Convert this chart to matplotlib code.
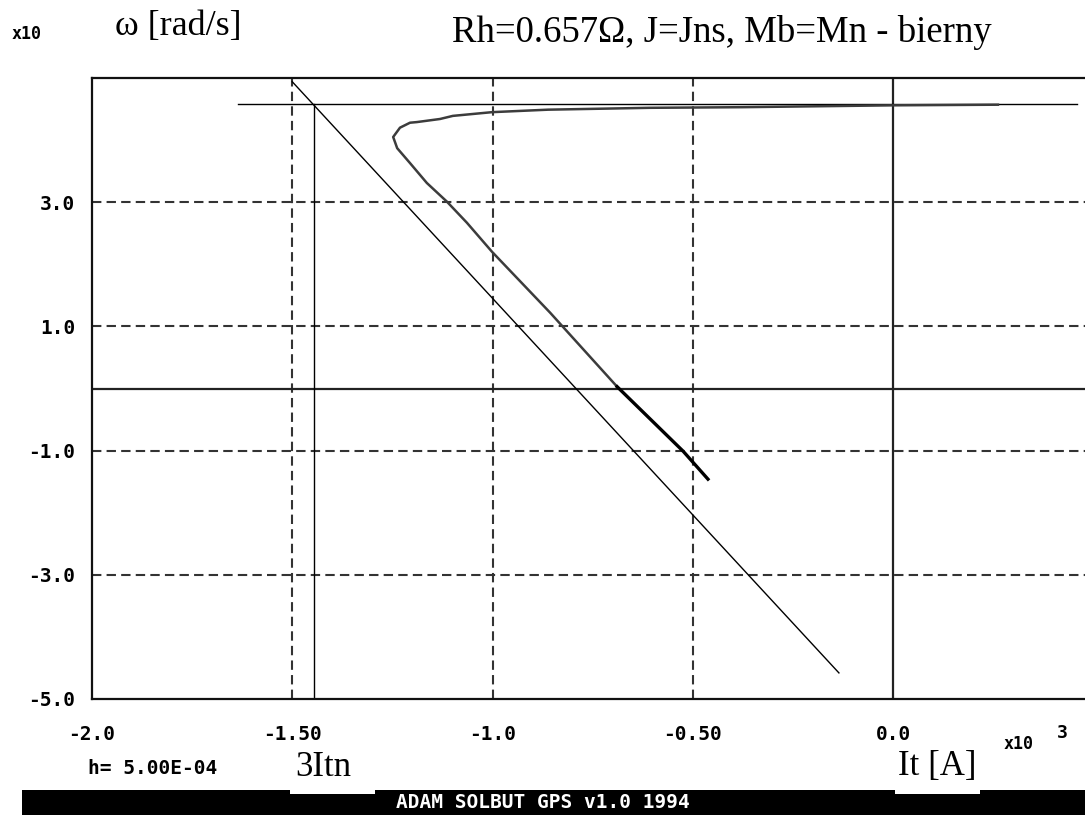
import matplotlib
matplotlib.use("Agg")
import matplotlib.pyplot as plt
from matplotlib.patches import Rectangle

# braking trajectory omega(It) (It in x10^3 A, omega in x10 rad/s)
curve_i = [0.262, 0.0, -0.377, -0.607, -0.861, -1.001, -1.099, -1.131, -1.189, -1.206,
           -1.231, -1.248, -1.238, -1.206, -1.164, -1.114, -1.064, -1.001, -0.856, -0.689,
           -0.524, -0.462]
curve_w = [4.57, 4.56, 4.53, 4.52, 4.49, 4.45, 4.39, 4.34, 4.29, 4.28,
           4.20, 4.05, 3.87, 3.63, 3.31, 3.01, 2.67, 2.20, 1.22, 0.03,
           -1.01, -1.46]
split = 19  # darker part of the trace starts here

# helper lines
hline_i = [-1.635, 0.46]
hline_w = [4.58, 4.58]
vline_i = [-1.446, -1.446]
vline_w = [-5.0, 4.58]
diag_i = [-1.50, -0.135]
diag_w = [4.94, -4.58]

xticks = [-2.0, -1.5, -1.0, -0.5, 0.0]
xlabels = ["-2.0", "-1.50", "-1.0", "-0.50", "0.0"]
yticks = [-5.0, -3.0, -1.0, 1.0, 3.0]
ylabels = ["-5.0", "-3.0", "-1.0", "1.0", "3.0"]

mono = "DejaVu Sans Mono"
serif = "Liberation Serif"

fig = plt.figure(figsize=(10.85, 8.15), dpi=100)
ax = fig.add_axes([92 / 1085, 1 - 699 / 815, 1 - 92 / 1085, 621 / 815])
ax.set_xlim(-2.0, 0.4794)
ax.set_ylim(-5.0, 5.0)

# dashed grid
dash = (0, (4.5, 2.5))
for x in xticks[1:-1]:
    ax.axvline(x, color="#333333", lw=1.5, ls=dash, zorder=1)
for y in yticks[1:]:
    ax.axhline(y, color="#333333", lw=1.5, ls=dash, zorder=1)
ax.axvline(0.0, color="#222222", lw=1.6, zorder=1)
ax.axhline(0.0, color="#222222", lw=1.6, zorder=1)

ax.plot(hline_i, hline_w, color="black", lw=1.0, zorder=2)
ax.plot(vline_i, vline_w, color="black", lw=1.0, zorder=2)
ax.plot(diag_i, diag_w, color="black", lw=1.0, zorder=2)

ax.plot(curve_i[:split + 1], curve_w[:split + 1], color="#3c3c3c", lw=1.8, zorder=3)
ax.plot(curve_i[split:], curve_w[split:], color="black", lw=2.4, zorder=3)

for side in ["left", "top", "bottom"]:
    ax.spines[side].set_linewidth(1.6)
    ax.spines[side].set_color("#111111")
ax.spines["right"].set_visible(False)

ax.set_xticks(xticks)
ax.set_xticklabels(xlabels, fontfamily=mono, fontweight="bold", fontsize=14)
ax.set_yticks(yticks)
ax.set_yticklabels(ylabels, fontfamily=mono, fontweight="bold", fontsize=14)
ax.tick_params(axis="x", length=0, pad=19)
ax.tick_params(axis="y", length=0, pad=12)

def px(x, y):
    return x / 1085, 1 - y / 815

fig.text(*px(12, 34), "x10", fontfamily=mono, fontweight="bold", fontsize=12, va="center")
fig.text(*px(115, 26), "ω [rad/s]", fontfamily=serif, fontsize=26, va="center")
fig.text(*px(452, 32), "Rh=0.657Ω, J=Jns, Mb=Mn - bierny", fontfamily=serif, fontsize=26.5, va="center")
fig.text(*px(1004, 744), "x10", fontfamily=mono, fontweight="bold", fontsize=12, va="center")
fig.text(*px(1057, 733), "3", fontfamily=mono, fontweight="bold", fontsize=13, va="center")
fig.text(*px(88, 768), "h= 5.00E-04", fontfamily=mono, fontweight="bold", fontsize=14, va="center")

# black status bar
fig.patches.append(Rectangle(px(22, 815), (1085 - 22) / 1085, 25 / 815, transform=fig.transFigure,
                             facecolor="black", edgecolor="none", zorder=0))
fig.patches.append(Rectangle(px(290, 794), 85 / 1085, 10 / 815, transform=fig.transFigure,
                             facecolor="white", edgecolor="none", zorder=1))
fig.patches.append(Rectangle(px(895, 794), 85 / 1085, 10 / 815, transform=fig.transFigure,
                             facecolor="white", edgecolor="none", zorder=1))
fig.text(*px(543, 803), "ADAM SOLBUT GPS v1.0 1994", fontfamily=mono, fontweight="bold",
         fontsize=14, color="white", ha="center", va="center")
fig.text(*px(295, 767), "3Itn", fontfamily=serif, fontsize=25, va="center")
fig.text(*px(898, 767), "It [A]", fontfamily=serif, fontsize=25, va="center")

fig.savefig("out.png", dpi=100)
